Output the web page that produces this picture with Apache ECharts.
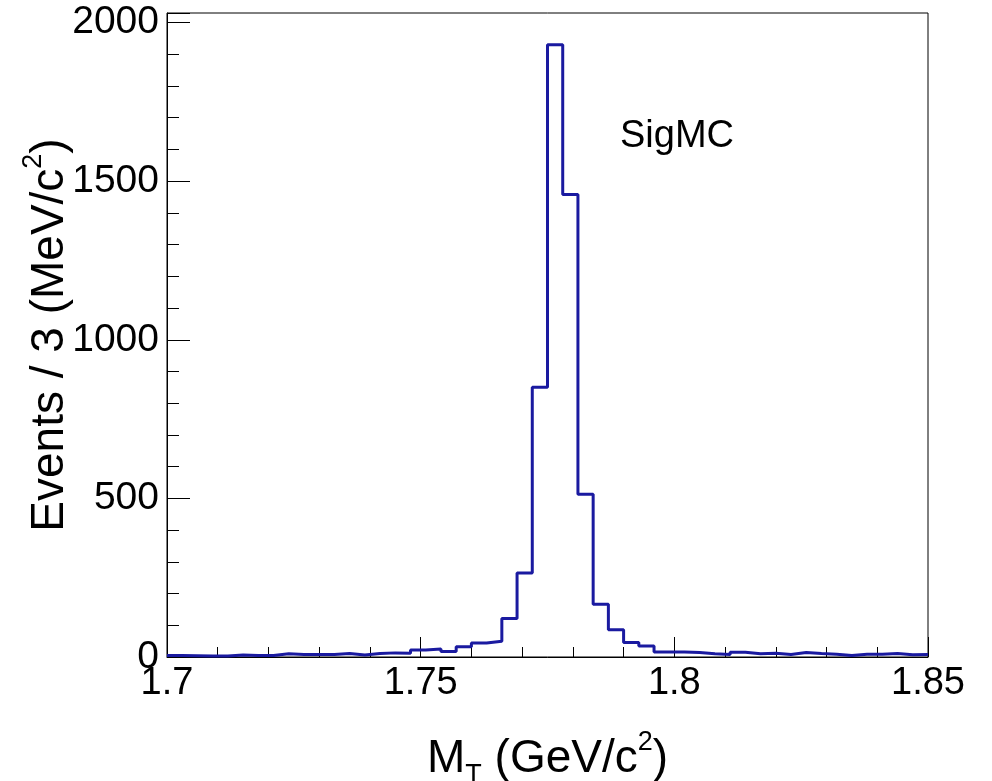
<!DOCTYPE html>
<html>
<head>
<meta charset="utf-8">
<script src="https://cdn.jsdelivr.net/npm/echarts@6/dist/echarts.min.js"></script>
<style>
html,body{margin:0;padding:0;background:#fff;}
#chart{width:992px;height:781px;}
</style>
</head>
<body>
<div id="chart"></div>
<script>
// Histogram: 50 bins of 3 MeV from 1.70 to 1.85 GeV/c^2
const binStart = 1.7;
const binWidth = 0.003;
const counts = [5,4,3,3,6,5,5,10,8,8,
                8,11,6,11,13,12,22,25,17,32,
                44,50,121,265,850,1930,1458,513,166,86,
                46,35,16,16,14,10,8,15,10,12,
                8,14,11,9,5,9,9,11,7,8];
const xTicks = [1.7, 1.75, 1.8, 1.85];
const yTicks = [0, 500, 1000, 1500, 2000];
const label = 'SigMC';

const FONT = 'Liberation Sans, Arial, Helvetica, sans-serif';
const edges = counts.map((_, i) => +(binStart + i * binWidth).toFixed(4));
const histData = counts.map((c, i) => [edges[i], c]);
histData.push([+(binStart + counts.length * binWidth).toFixed(4), counts[counts.length - 1]]);

const xMin = xTicks[0], xMax = xTicks[xTicks.length - 1];
const yMax = 2030;

const chart = echarts.init(document.getElementById('chart'), null, {renderer: 'canvas'});
const richStyles = {
  m: {fontSize: 46, fontFamily: FONT, color: '#000', lineHeight: 60},
  sub: {fontSize: 27, fontFamily: FONT, color: '#000', lineHeight: 27, verticalAlign: 'bottom'},
  sup: {fontSize: 27, fontFamily: FONT, color: '#000', lineHeight: 27, verticalAlign: 'top'}
};
chart.setOption({
  animation: false,
  backgroundColor: '#fff',
  title: {
    text: label,
    left: 615, top: 113,
    textStyle: {fontFamily: FONT, fontSize: 38, fontWeight: 'normal', color: '#000'}
  },
  grid: {left: 167, right: 64, top: 13, bottom: 124, show: true, borderColor: '#000', borderWidth: 1,
         containLabel: false, outerBoundsMode: 'none'},
  xAxis: {
    type: 'value', min: xMin, max: xMax, interval: 0.05,
    name: '{m|M}{sub|T}{m| (GeV/c}{sup|2}{m|)}',
    nameLocation: 'middle', nameGap: 72, nameMoveOverlap: false,
    nameTextStyle: {fontFamily: FONT, fontSize: 46, color: '#000', rich: richStyles},
    axisLine: {show: true, onZero: false, lineStyle: {color: '#000', width: 1}},
    axisTick: {show: true, inside: true, length: 20, lineStyle: {color: '#000', width: 1}},
    minorTick: {show: true, splitNumber: 5, length: 10, lineStyle: {color: '#000', width: 1}},
    splitLine: {show: false},
    axisLabel: {fontFamily: FONT, fontSize: 38, color: '#000', margin: 8,
      formatter: v => String(+v.toFixed(2))}
  },
  yAxis: [{
    type: 'value', min: 0, max: yMax, interval: 500,
    name: '{m|Events / 3 (MeV/c}{sup|2}{m|)}',
    nameLocation: 'middle', nameGap: 87, nameMoveOverlap: false,
    nameTextStyle: {fontFamily: FONT, fontSize: 46, color: '#000', rich: richStyles},
    axisLine: {show: true, onZero: false, lineStyle: {color: '#000', width: 1}},
    axisTick: {show: true, inside: true, length: 23, lineStyle: {color: '#000', width: 1}},
    splitLine: {show: false},
    axisLabel: {fontFamily: FONT, fontSize: 39, color: '#000', margin: 8, showMaxLabel: true,
      formatter: v => (yTicks.indexOf(v) >= 0 ? String(v) : '')}
  }, {
    type: 'value', min: 0, max: yMax, interval: 100, position: 'left',
    axisLine: {show: false},
    axisTick: {show: true, inside: true, length: 12, lineStyle: {color: '#000', width: 1}},
    splitLine: {show: false},
    axisLabel: {show: false}
  }],
  series: [{
    type: 'line', step: 'end', xAxisIndex: 0, yAxisIndex: 0,
    data: histData, showSymbol: false, symbol: 'none',
    lineStyle: {color: '#1a1aa0', width: 3},
    clip: true
  }]
});
</script>
</body>
</html>
